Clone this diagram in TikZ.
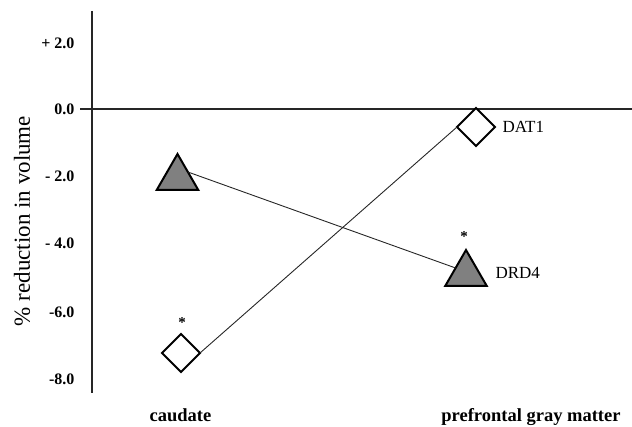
\documentclass[tikz,border=0pt]{standalone}
\usepackage{fontspec}
\setmainfont{Liberation Serif}
\usetikzlibrary{shapes.geometric}
\begin{document}
\begin{tikzpicture}[x=1pt,y=-1pt,
  axis/.style={line width=1.5pt, draw=black!85},
  conn/.style={line width=0.9pt, draw=black!85},
  tri/.style={regular polygon, regular polygon sides=3, draw=black, line width=2pt,
    fill={rgb,255:red,128;green,128;blue,128}, minimum size=48pt, inner sep=0pt, outer sep=0pt},
  dia/.style={diamond, aspect=1, draw=black, line width=2pt, fill=white,
    minimum size=38pt, inner sep=0pt, outer sep=0pt},
  ticklab/.style={anchor=east, font=\fontsize{16}{18}\selectfont\bfseries},
  catlab/.style={anchor=base, font=\fontsize{18.5}{20}\selectfont\bfseries},
  serlab/.style={anchor=west, font=\fontsize{17}{19}\selectfont},
  star/.style={anchor=north, inner sep=0pt, font=\fontsize{15}{16}\selectfont\bfseries}
]
\useasboundingbox (0,0) rectangle (632,427);
% axes
\coordinate (ytop) at (92,11);
\coordinate (ybot) at (92,393);
\coordinate (xl) at (80,109);
\coordinate (xr) at (632,109);
\draw[axis] (ytop) -- (ybot);
\draw[axis] (xl) -- (xr);
% tick labels
\node[ticklab] (t1) at (78,43) {+ 2.0};
\node[ticklab] (t2) at (78,109) {0.0};
\node[ticklab] (t3) at (78,176) {- 2.0};
\node[ticklab] (t4) at (78,243) {- 4.0};
\node[ticklab] (t5) at (78,312) {-6.0};
\node[ticklab] (t6) at (78,379) {-8.0};
% axis title
\node[rotate=90, font=\fontsize{23}{25}\selectfont] (ytitle) at (22,221) {\% reduction in volume};
% category labels
\node[catlab] (cau) at (180.5,422) {caudate};
\node[catlab] (pgm) at (531,422) {prefrontal gray matter};
% data points
\node[tri] (tc) at (177.5,178) {};
\node[tri] (tp) at (466,274) {};
\node[dia] (dc) at (181,353) {};
\node[dia] (dp) at (476,127) {};
% connectors
\draw[conn] (dc.east) -- (dp.west);
\draw[conn] (tc.side 3) -- (tp.side 1);
% labels
\node[serlab] (dat) at (499,127) {DAT1};
\node[serlab] (drd) at (492,273) {DRD4};
\node[star] (s1) at (182,317) {*};
\node[star] (s2) at (464,231) {*};
\end{tikzpicture}
\end{document}
